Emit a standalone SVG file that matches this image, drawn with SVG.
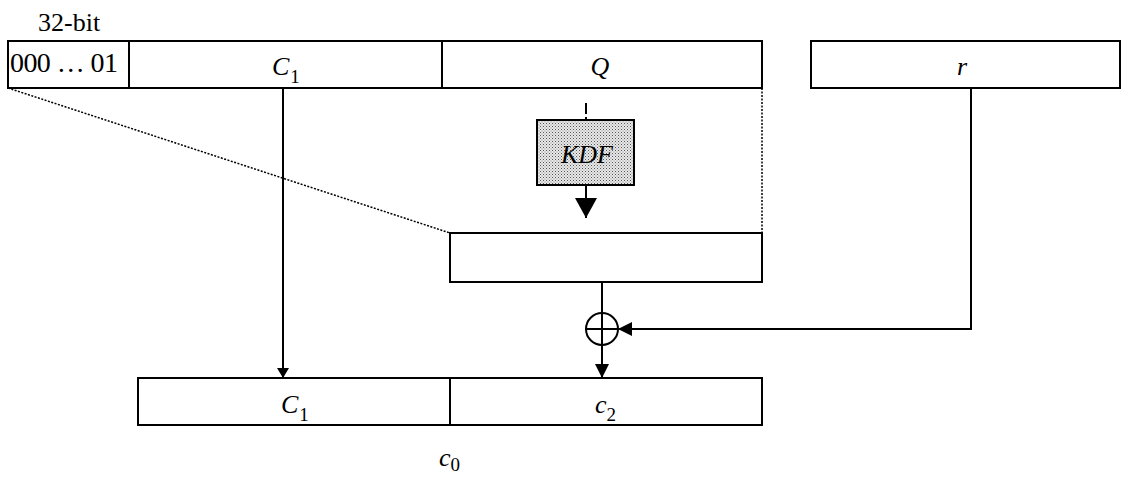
<svg xmlns="http://www.w3.org/2000/svg" width="1122" height="477" viewBox="0 0 1122 477">
<defs>
<pattern id="dots" width="3" height="3" patternUnits="userSpaceOnUse">
<rect width="3" height="3" fill="#e8e8e8"/>
<rect width="1" height="1" fill="#555"/>
<rect x="1.5" y="1.5" width="1" height="1" fill="#888"/>
</pattern>
<marker id="arr" viewBox="0 0 10 12" refX="10" refY="6" markerWidth="10" markerHeight="12" markerUnits="userSpaceOnUse" orient="auto">
<path d="M0,0 L10,6 L0,12 Z" fill="#000"/>
</marker>
<marker id="arr14" viewBox="0 0 14 14" refX="14" refY="7" markerWidth="14" markerHeight="14" markerUnits="userSpaceOnUse" orient="auto">
<path d="M0,0 L14,7 L0,14 Z" fill="#000"/>
</marker>
<marker id="arrbig" viewBox="0 0 20 22" refX="20" refY="11" markerWidth="20" markerHeight="22" markerUnits="userSpaceOnUse" orient="auto">
<path d="M0,0 L20,11 L0,22 Z" fill="#000"/>
</marker>
</defs>
<style>
.box{fill:#fff;stroke:#000;stroke-width:2}
.ln{fill:none;stroke:#000;stroke-width:2}
.dot{fill:none;stroke:#000;stroke-width:1.5;stroke-dasharray:2 1.5}
</style>
<g font-family="Liberation Serif, Times New Roman, serif" font-size="26" fill="#000">
<text x="38" y="31">32-bit</text>
<g id="top">
<rect class="box" x="8" y="41" width="754" height="47"/>
<line class="ln" x1="129" y1="41" x2="129" y2="88"/>
<line class="ln" x1="442" y1="41" x2="442" y2="88"/>
<text x="10" y="72" font-size="28" textLength="108" lengthAdjust="spacing">000 … 01</text>
<text font-style="italic" x="272" y="75">C<tspan font-size="19" font-style="normal" dx="1" dy="8">1</tspan></text>
<text font-style="italic" x="600" y="75" text-anchor="middle">Q</text>
</g>
<g id="rbox">
<rect class="box" x="811" y="41" width="309" height="47"/>
<text font-style="italic" x="962" y="75" text-anchor="middle">r</text>
</g>
<g id="kdf">
<rect x="537" y="120" width="97" height="65" fill="url(#dots)" stroke="#000" stroke-width="2"/>
<text font-style="italic" x="587" y="163" text-anchor="middle">KDF</text>
</g>
<g id="mid">
<rect class="box" x="450" y="233" width="312" height="49"/>
</g>
<g id="xor">
<circle cx="602" cy="329" r="16" fill="none" stroke="#000" stroke-width="2"/>
<line class="ln" x1="586" y1="329" x2="618" y2="329"/>
<line class="ln" x1="602" y1="313" x2="602" y2="345"/>
</g>
<g id="bottom">
<rect class="box" x="138" y="378" width="624" height="47"/>
<line class="ln" x1="450" y1="378" x2="450" y2="425"/>
<text font-style="italic" x="281" y="413">C<tspan font-size="19" font-style="normal" dx="1" dy="8">1</tspan></text>
<text font-style="italic" x="595" y="413">c<tspan font-size="19" font-style="normal" dy="8">2</tspan></text>
<text font-style="italic" x="439" y="466">c<tspan font-size="19" font-style="normal" dy="5">0</tspan></text>
</g>
</g>
<g id="connectors">
<line class="dot" x1="8" y1="88" x2="450" y2="233"/>
<line class="dot" x1="762" y1="88" x2="762" y2="233"/>
<line x1="586" y1="103" x2="586" y2="120" stroke="#000" stroke-width="2" stroke-dasharray="11 3"/>
<line class="ln" x1="586" y1="185" x2="586" y2="218" marker-end="url(#arrbig)"/>
<line class="ln" x1="283" y1="88" x2="283" y2="378" marker-end="url(#arr)"/>
<line class="ln" x1="602" y1="282" x2="602" y2="313"/>
<line class="ln" x1="602" y1="345" x2="602" y2="378" marker-end="url(#arr14)"/>
<polyline class="ln" points="971,88 971,329 618,329" marker-end="url(#arr14)"/>
</g>
</svg>
